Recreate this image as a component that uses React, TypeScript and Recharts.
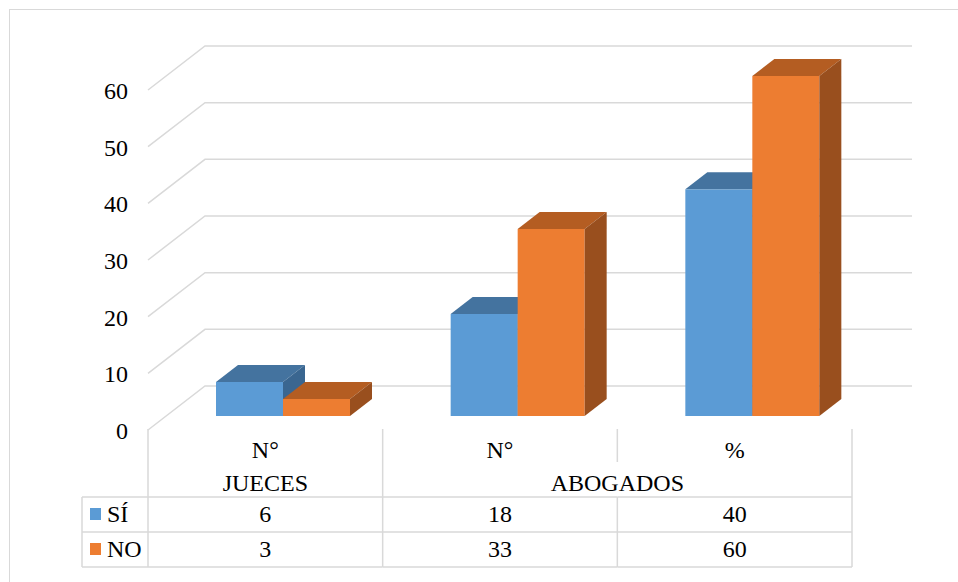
import { Bar, BarChart, CartesianGrid, XAxis, YAxis } from "recharts";

const FUENTE = "Times New Roman";
const GRIS = "#D9D9D9";
const TEXTO = "#000000";

const AZUL = "#5B9BD5";
const AZUL_TOP = "#44739F";
const AZUL_LADO = "#3A6690";
const NARANJA = "#ED7D31";
const NARANJA_TOP = "#B45D22";
const NARANJA_LADO = "#994F1E";

const categorias = ["N°", "N°", "%"];
const grupos = ["JUECES", "ABOGADOS", "ABOGADOS"];
const si = [6, 18, 40];
const no = [3, 33, 60];
const series = ["SÍ", "NO"];
const yTicks = [0, 10, 20, 30, 40, 50, 60];

const data = categorias.map((c, i) => ({ key: `${c}-${grupos[i]}-${i}`, si: si[i], no: no[i] }));

const W = 958;
const H = 582;
const MARGEN = { top: 90, right: 106, left: 0, bottom: 0 };
const ANCHO_Y = 148;
const ALTO_X = 152;
const BANDA = (W - MARGEN.right - ANCHO_Y) / categorias.length;

// profundidad del piso / pared de fondo
const FONDO_DX = 57;
const FONDO_DY = 44;
// plano donde están las barras
const BARRA_DX = 18;
const BARRA_DY = 14;
// profundidad de cada barra
const CAJA_DX = 22;
const CAJA_DY = 17;

function Caja(props: any, front: string, top: string, side: string) {
  const { x, y, width, height } = props;
  if (width == null || height == null) return <g />;
  const fx = x + BARRA_DX;
  const fy = y - BARRA_DY;
  return (
    <g>
      <rect x={fx} y={fy} width={width} height={height} fill={front} />
      <polygon
        points={`${fx},${fy} ${fx + CAJA_DX},${fy - CAJA_DY} ${fx + width + CAJA_DX},${fy - CAJA_DY} ${fx + width},${fy}`}
        fill={top}
      />
      <polygon
        points={`${fx + width},${fy} ${fx + width + CAJA_DX},${fy - CAJA_DY} ${fx + width + CAJA_DX},${fy + height - CAJA_DY} ${fx + width},${fy + height}`}
        fill={side}
      />
    </g>
  );
}

function LineaFondo(p: any) {
  const { x1, y1, x2 } = p;
  return (
    <polyline
      key={`fondo-${y1}`}
      points={`${x1},${y1} ${x1 + FONDO_DX},${y1 - FONDO_DY} ${x2 + FONDO_DX + 3},${y1 - FONDO_DY}`}
      fill="none"
      stroke={GRIS}
      strokeWidth={1.5}
    />
  );
}

function Texto(p: any) {
  const { children, ...rest } = p;
  return (
    <text {...rest} fill={TEXTO} style={{ fontFamily: `"${FUENTE}"`, fontSize: 24 }}>
      {children}
    </text>
  );
}

function TickY(p: any) {
  const { x, y, payload } = p;
  return (
    <Texto x={x} y={y + 9} textAnchor="end">
      {payload.value}
    </Texto>
  );
}

function Tabla(p: any) {
  const { x, y, payload } = p;
  const i: number = p.index ?? payload?.index ?? 0;
  const izq = x - BANDA / 2;
  const der = x + BANDA / 2;
  const sigMismo = i < grupos.length - 1 && grupos[i + 1] === grupos[i];
  const primero = i === 0 || grupos[i - 1] !== grupos[i];
  let n = 1;
  while (i + n < grupos.length && grupos[i + n] === grupos[i]) n++;
  const linea = { stroke: GRIS, strokeWidth: 1.5 };
  const filas = [y + 67, y + 102, y + 137];
  return (
    <g>
      {i === 0 && (
        <g>
          <line x1={izq} y1={y - 1} x2={izq} y2={y + 137} {...linea} />
          <line x1={izq - 66} y1={y + 67} x2={izq - 66} y2={y + 137} {...linea} />
          {filas.map((fy) => (
            <line key={fy} x1={izq - 66} y1={fy} x2={izq} y2={fy} {...linea} />
          ))}
          {series.map((s, k) => (
            <g key={s}>
              <rect x={izq - 58} y={y + 78 + k * 35} width={11} height={12} fill={k === 0 ? AZUL : NARANJA} />
              <Texto x={izq - 41} y={y + 91.5 + k * 35}>
                {s}
              </Texto>
            </g>
          ))}
        </g>
      )}
      {sigMismo ? (
        <g>
          <line x1={der} y1={y - 1} x2={der} y2={y + 32} {...linea} />
          <line x1={der} y1={y + 67} x2={der} y2={y + 137} {...linea} />
        </g>
      ) : (
        <line x1={der} y1={y - 1} x2={der} y2={y + 137} {...linea} />
      )}
      {filas.map((fy) => (
        <line key={fy} x1={izq} y1={fy} x2={der} y2={fy} {...linea} />
      ))}
      <Texto x={x} y={y + 27.5} textAnchor="middle">
        {categorias[i]}
      </Texto>
      {primero && (
        <Texto x={x + ((n - 1) * BANDA) / 2} y={y + 61} textAnchor="middle">
          {grupos[i]}
        </Texto>
      )}
      <Texto x={x} y={y + 91.5} textAnchor="middle">
        {si[i]}
      </Texto>
      <Texto x={x} y={y + 127} textAnchor="middle">
        {no[i]}
      </Texto>
    </g>
  );
}

export default function App() {
  return (
    <div style={{ position: "absolute", left: 0, top: 0, width: W, height: H, overflow: "hidden", background: "#fff" }}>
      <div
        style={{
          position: "absolute",
          left: 9,
          top: 9,
          width: 2000,
          height: 2000,
          border: `1.5px solid ${GRIS}`,
        }}
      />
      <div style={{ position: "absolute", left: 0, top: 0 }}>
        <BarChart width={W} height={H} data={data} margin={MARGEN} barGap={0}>
          <CartesianGrid vertical={false} horizontal={LineaFondo as any} />
          <YAxis
            domain={[0, 60]}
            ticks={yTicks}
            width={ANCHO_Y}
            axisLine={false}
            tickLine={false}
            tickSize={0}
            tickMargin={20}
            tick={TickY}
          />
          <XAxis
            dataKey="key"
            height={ALTO_X}
            axisLine={false}
            tickLine={false}
            tickSize={0}
            tickMargin={0}
            interval={0}
            tick={Tabla}
          />
          <Bar
            dataKey="si"
            name="SÍ"
            fill={AZUL}
            barSize={67}
            isAnimationActive={false}
            shape={(p: any) => Caja(p, AZUL, AZUL_TOP, AZUL_LADO)}
          />
          <Bar
            dataKey="no"
            name="NO"
            fill={NARANJA}
            barSize={67}
            isAnimationActive={false}
            shape={(p: any) => Caja(p, NARANJA, NARANJA_TOP, NARANJA_LADO)}
          />
        </BarChart>
      </div>
    </div>
  );
}
